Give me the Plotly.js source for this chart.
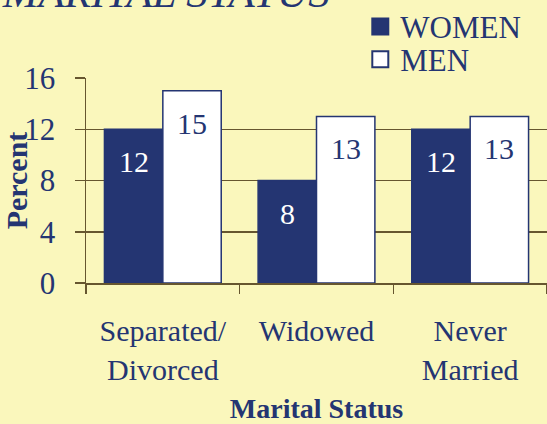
<!DOCTYPE html>
<html>
<head>
<meta charset="utf-8">
<script src="https://cdn.plot.ly/plotly-3.0.1.min.js"></script>
<style>html,body{margin:0;padding:0;background:#FAF7BC;}#chart{width:547px;height:424px;}</style>
</head>
<body>
<div id="chart"></div>
<script>
const categories = ["Separated/<br>Divorced", "Widowed", "Never<br>Married"];
const women = [12, 8, 12];
const men = [15, 13, 13];
const seriesNames = ["WOMEN", "MEN"];
const yTicks = [0, 4, 8, 12, 16];

const navy = "#243572";
const grid = "#66562F";
const bg = "#FAF7BC";
const fontFam = "Liberation Serif, Times New Roman, serif";
const BARGAP = 0.24;

const traces = [
  {
    type: "bar", name: seriesNames[0], x: categories, y: women,
    marker: {color: navy, line: {color: navy, width: 1.5}},
    showlegend: false, legendgroup: "w", hoverinfo: "none"
  },
  {
    type: "bar", name: seriesNames[1], x: categories, y: men,
    marker: {color: "#FFFFFF", line: {color: navy, width: 1.5}},
    showlegend: false, legendgroup: "m", hoverinfo: "none"
  },
  {
    type: "scatter", mode: "markers", name: seriesNames[0], legendgroup: "w", legend: "legend",
    x: [categories[0]], y: [null],
    marker: {symbol: "square", size: 16, color: navy, line: {color: navy, width: 2}},
    hoverinfo: "none"
  },
  {
    type: "scatter", mode: "markers", name: seriesNames[1], legendgroup: "m", legend: "legend2",
    x: [categories[0]], y: [null],
    marker: {symbol: "square", size: 16, color: "#FFFFFF", line: {color: navy, width: 2}},
    hoverinfo: "none"
  }
];

// value labels placed on the bars through the axis scales
const nCat = categories.length;
const plotW = 547 - 86;
const barW = plotW / nCat * (1 - BARGAP) / 2;
const annotations = [];
categories.forEach((c, i) => {
  annotations.push({x: c, y: women[i], xref: "x", yref: "y", text: String(women[i]),
    showarrow: false, xshift: -barW / 2, yanchor: "top", yshift: -14,
    font: {family: fontFam, size: 30, color: "#FFFFFF"}});
  annotations.push({x: c, y: men[i], xref: "x", yref: "y", text: String(men[i]),
    showarrow: false, xshift: barW / 2, yanchor: "top", yshift: -14,
    font: {family: fontFam, size: 30, color: navy}});
});

const legendBase = {
  xref: "paper", x: 0.595, xanchor: "left", yanchor: "middle",
  bgcolor: "rgba(0,0,0,0)",
  font: {family: fontFam, size: 31, color: navy},
  itemwidth: 30, itemclick: false, itemdoubleclick: false
};

const layout = {
  width: 547, height: 424,
  paper_bgcolor: bg, plot_bgcolor: bg,
  font: {family: fontFam, color: navy, size: 30},
  margin: {l: 86, r: 0, t: 78, b: 141, pad: 0, autoexpand: false},
  barmode: "group", bargap: BARGAP, bargroupgap: 0,
  title: {
    text: "<i>MARITAL STATUS</i>",
    font: {family: fontFam, size: 43, color: navy},
    xref: "container", x: 0.005, xanchor: "left",
    yref: "paper", y: 1, yanchor: "bottom",
    pad: {b: 71}
  },
  showlegend: true,
  legend: Object.assign({}, legendBase, {y: 1.25}),
  legend2: Object.assign({}, legendBase, {y: 1.09}),
  annotations: annotations,
  xaxis: {
    type: "category",
    showline: true, linecolor: grid, linewidth: 1.5,
    ticks: "outside", tickson: "boundaries", ticklen: 9, tickcolor: grid, tickwidth: 1.5,
    ticklabelstandoff: 20,
    tickfont: {family: fontFam, size: 30, color: navy},
    showgrid: false,
    title: {text: "<b>Marital Status</b>", font: {family: fontFam, size: 28, color: navy}, standoff: 19}
  },
  yaxis: {
    range: [0, 16], tickvals: yTicks, ticktext: yTicks.map(String),
    showline: true, linecolor: grid, linewidth: 1.5,
    ticks: "outside", ticklen: 10, tickcolor: grid, tickwidth: 1.5,
    ticklabelstandoff: 13,
    showgrid: true, gridcolor: grid, gridwidth: 1.5,
    zeroline: false,
    tickfont: {family: fontFam, size: 31, color: navy},
    title: {text: "<b>Percent</b>", font: {family: fontFam, size: 30, color: navy}, standoff: 0}
  }
};

Plotly.newPlot("chart", traces, layout, {displayModeBar: false, staticPlot: true});
</script>
</body>
</html>
